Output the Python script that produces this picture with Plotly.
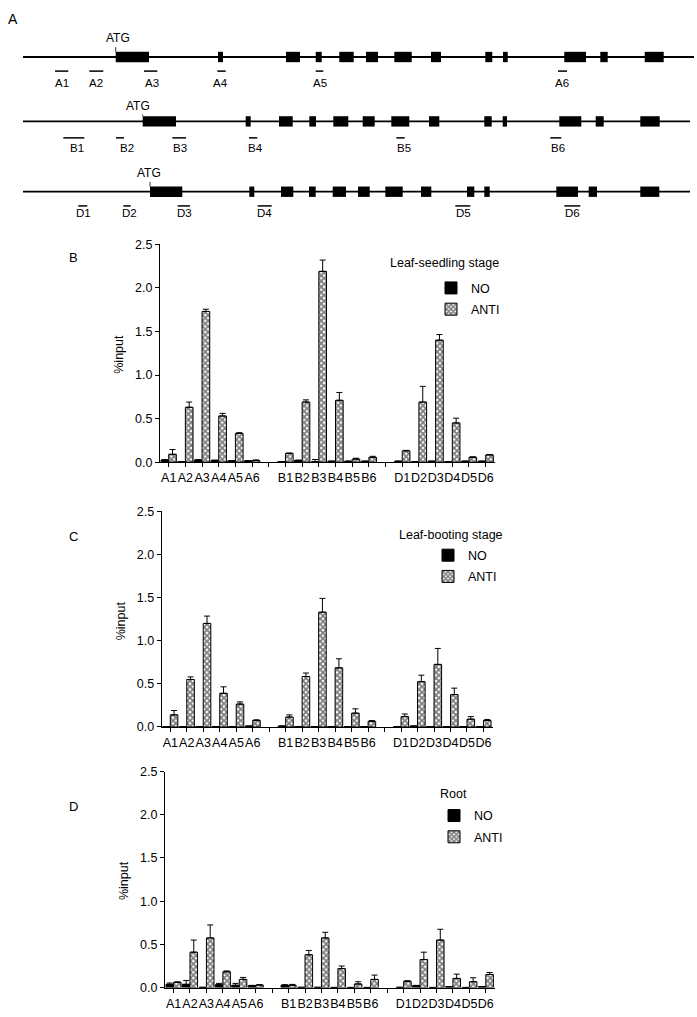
import plotly.graph_objects as go

W, H = 697, 1017
FONT = "Liberation Sans, Arial, sans-serif"

# ---------------- data ----------------
primer_labels = ["A1", "A2", "A3", "A4", "A5", "A6",
                 "B1", "B2", "B3", "B4", "B5", "B6",
                 "D1", "D2", "D3", "D4", "D5", "D6"]
axis_labels = ["A1", "A2", "A3", "A4", "A5", "A6", "",
               "B1", "B2", "B3", "B4", "B5", "B6", "",
               "D1", "D2", "D3", "D4", "D5", "D6"]

seedling_no = [0.025, 0.005, 0.025, 0.02, 0.015, 0.015,
               0.005, 0.02, 0.005, 0.01, 0.01, 0.01,
               0.01, 0.005, 0.01, 0.005, 0.01, 0.01]
seedling_no_err = [0.003, 0.0, 0.003, 0.003, 0.002, 0.002,
                   0.0, 0.003, 0.025, 0.002, 0.002, 0.002,
                   0.002, 0.0, 0.002, 0.0, 0.002, 0.002]
seedling_anti = [0.09, 0.63, 1.73, 0.53, 0.33, 0.02,
                 0.10, 0.69, 2.19, 0.71, 0.035, 0.055,
                 0.13, 0.69, 1.40, 0.45, 0.056, 0.083]
seedling_anti_err = [0.055, 0.06, 0.025, 0.03, 0.008, 0.005,
                     0.005, 0.025, 0.13, 0.09, 0.01, 0.012,
                     0.005, 0.18, 0.065, 0.055, 0.005, 0.005]

booting_no = [0.005, 0.005, 0.005, 0.005, 0.005, 0.01,
              0.01, 0.005, 0.005, 0.005, 0.005, 0.005,
              0.003, 0.01, 0.005, 0.005, 0.003, 0.003]
booting_no_err = [0.0] * 18
booting_anti = [0.14, 0.55, 1.20, 0.39, 0.265, 0.075,
                0.115, 0.585, 1.33, 0.685, 0.16, 0.065,
                0.12, 0.525, 0.725, 0.375, 0.09, 0.075]
booting_anti_err = [0.05, 0.03, 0.085, 0.075, 0.025, 0.008,
                    0.025, 0.04, 0.16, 0.105, 0.05, 0.008,
                    0.03, 0.075, 0.185, 0.075, 0.03, 0.012]

root_no = [0.038, 0.038, 0.003, 0.034, 0.027, 0.023,
           0.027, 0.003, 0.003, 0.002, 0.002, 0.002,
           0.003, 0.023, 0.002, 0.01, 0.002, 0.01]
root_no_err = [0.015, 0.045, 0.0, 0.015, 0.022, 0.003,
               0.007, 0.0, 0.0, 0.0, 0.0, 0.0,
               0.0, 0.003, 0.0, 0.002, 0.0, 0.002]
root_anti = [0.06, 0.41, 0.575, 0.183, 0.095, 0.03,
             0.027, 0.38, 0.575, 0.22, 0.042, 0.095,
             0.072, 0.325, 0.55, 0.106, 0.068, 0.152]
root_anti_err = [0.007, 0.14, 0.15, 0.01, 0.023, 0.003,
                 0.01, 0.05, 0.065, 0.03, 0.026, 0.05,
                 0.008, 0.085, 0.125, 0.05, 0.046, 0.023]

panel_titles = ["Leaf-seedling stage", "Leaf-booting stage", "Root"]
series_names = ["NO", "ANTI"]
y_ticks = [0.0, 0.5, 1.0, 1.5, 2.0, 2.5]

# gene schematics (panel A): exon start/end along each gene track
exons_A = [(115.7, 149), (218, 223), (286, 300), (315.7, 321.7), (339.3, 353.7),
           (366, 378), (394.3, 411.7), (431, 441), (485.3, 492.3), (503, 507.7),
           (564.3, 586), (600.3, 607.7), (644.7, 663.7)]
exons_B = [(142.7, 176), (245.7, 250.7), (279, 292.7), (309.3, 316), (333.3, 348.3),
           (362.7, 374.7), (391.3, 409.3), (429, 439.3), (484.3, 491.7), (502.7, 507),
           (559.3, 581.3), (595.7, 603.7), (640.3, 659.7)]
exons_D = [(150, 182.3), (249.3, 254.3), (281, 293.3), (309, 315.7), (332.7, 346),
           (358, 369.7), (385.3, 402.7), (421, 431.3), (467, 474.3), (484.3, 489.7),
           (556.3, 578), (588.7, 597), (640.3, 659.3)]
gene_span_A = (23, 694)
gene_span_B = (23, 690)
gene_span_D = (23, 690)
primers_A = [(55, 68.3, 61.7), (89.3, 103.3, 96), (144, 157.3, 151.7),
             (217.3, 225.7, 220.5), (315.7, 323.3, 320), (558, 567, 562)]
primers_B = [(63.3, 84.3, 77.3), (116, 124, 126.5), (172.3, 186, 180),
             (249, 257.3, 255), (396.3, 404.7, 404.3), (550.3, 561.3, 558)]
primers_D = [(78.3, 87.3, 83.3), (123.3, 130.7, 129.7), (177.7, 190, 184.3),
             (257.7, 271.7, 264.3), (455.3, 470.3, 463.7), (564.3, 580.3, 572)]
atg_sites = [117.5, 138.3, 149.3]
atg_marks = [115.7, 142.7, 150]

# ---------------- layout helpers ----------------
def px_x(v):
    return v / W

def px_y(v):
    return 1 - v / H

fig = go.Figure()

panels = [
    dict(no=seedling_no, noe=seedling_no_err, anti=seedling_anti, antie=seedling_anti_err,
         x0=160, x1=495, top=240.7, bot=461.5, leg=(431, 270), title=(388, 260), letter=(73, 254)),
    dict(no=booting_no, noe=booting_no_err, anti=booting_anti, antie=booting_anti_err,
         x0=161.7, x1=492.7, top=511.3, bot=730, leg=(428, 541), title=(396.7, 535), letter=(73, 537)),
    dict(no=root_no, noe=root_no_err, anti=root_anti, antie=root_anti_err,
         x0=165, x1=495, top=775.2, bot=994.3, leg=(434, 805), title=(438, 798.3), letter=(73, 811)),
]
letters = ["B", "C", "D"]

xpos = [axis_labels.index(c) for c in primer_labels]
annotations = []

for i, p in enumerate(panels):
    k = "" if i == 0 else str(i + 1)
    legname = "legend" if i == 0 else "legend" + str(i + 1)
    fig.add_trace(go.Bar(
        x=xpos, y=p["no"], name=series_names[0], xaxis="x" + k, yaxis="y" + k,
        marker=dict(color="black", line=dict(color="black", width=1)),
        error_y=dict(type="data", symmetric=False, array=p["noe"], arrayminus=[0] * 18,
                     color="black", thickness=1, width=3),
        legend=legname, legendgroup="no" + k, showlegend=True,
    ))
    fig.add_trace(go.Bar(
        x=xpos, y=p["anti"], name=series_names[1], xaxis="x" + k, yaxis="y" + k,
        marker=dict(color="white", line=dict(color="black", width=1),
                    pattern=dict(shape="x", size=4, solidity=0.7,
                                 fgcolor="black", bgcolor="white")),
        error_y=dict(type="data", symmetric=False, array=p["antie"], arrayminus=[0] * 18,
                     color="black", thickness=1, width=3),
        legend=legname, legendgroup="anti" + k, showlegend=True,
    ))
    xa = dict(domain=[px_x(p["x0"]), px_x(p["x1"])], range=[-0.52, 19.56],
              tickmode="array", tickvals=list(range(len(axis_labels))), ticktext=axis_labels,
              tickangle=0, ticks="outside", ticklen=4, tickcolor="black", tickwidth=1,
              showline=True, linecolor="black", linewidth=1, showgrid=False, zeroline=False,
              tickfont=dict(family=FONT, size=12.5, color="black"),
              anchor="y" + k, fixedrange=True)
    ya = dict(domain=[px_y(p["bot"]), px_y(p["top"])], range=[0, 2.5],
              tickmode="array", tickvals=y_ticks, tickformat=".1f",
              ticks="outside", ticklen=4, tickcolor="black", tickwidth=1,
              showline=True, linecolor="black", linewidth=1, showgrid=False, zeroline=False,
              tickfont=dict(family=FONT, size=12.5, color="black"),
              anchor="x" + k, fixedrange=True)
    fig.update_layout(**{"xaxis" + k: xa, "yaxis" + k: ya})
    fig.update_layout(**{legname: dict(
        x=px_x(p["leg"][0]), y=px_y(p["leg"][1]), xanchor="left", yanchor="top",
        bgcolor="rgba(0,0,0,0)", font=dict(family=FONT, size=12.5, color="black"),
        tracegroupgap=2, itemclick=False, itemdoubleclick=False)})
    annotations.append(dict(x=px_x(p["title"][0]), y=px_y(p["title"][1]), xref="paper", yref="paper",
                            text=panel_titles[i], showarrow=False, xanchor="left", yanchor="middle",
                            font=dict(family=FONT, size=12.5, color="black")))
    annotations.append(dict(x=px_x(p["x0"] - 41), y=px_y((p["top"] + p["bot"]) / 2 + 1.5),
                            xref="paper", yref="paper", text="%input", textangle=-90,
                            showarrow=False, xanchor="center", yanchor="middle",
                            font=dict(family=FONT, size=12.5, color="black")))
    annotations.append(dict(x=px_x(p["letter"][0]), y=px_y(p["letter"][1]), xref="paper", yref="paper",
                            text=letters[i], showarrow=False, xanchor="center", yanchor="middle",
                            font=dict(family=FONT, size=13, color="black")))

# ---------------- panel A: gene structures ----------------
rows_y = [50.7, 116, 187.3]
primer_bar_y = [65, 132.7, 201.7]
primer_label_y = [77.3, 142.7, 209.3]
atg_label_y = [31.7, 100, 168.3]
exon_sets = [exons_A, exons_B, exons_D]
spans = [gene_span_A, gene_span_B, gene_span_D]
primer_sets = [primers_A, primers_B, primers_D]
EXON_H = 10.5

lx, ly = [], []
for (s, e), ry in zip(spans, rows_y):
    lx += [s, e, None]
    ly += [ry, ry, None]
fig.add_trace(go.Scatter(x=lx, y=ly, mode="lines", line=dict(color="black", width=1.8),
                         xaxis="x4", yaxis="y4", showlegend=False, hoverinfo="skip"))

ex_base, ex_len, ex_y = [], [], []
for exs, ry in zip(exon_sets, rows_y):
    for s, e in exs:
        ex_base.append(s)
        ex_len.append(e - s)
        ex_y.append(ry)
fig.add_trace(go.Bar(x=ex_len, base=ex_base, y=ex_y, orientation="h", width=EXON_H,
                     marker=dict(color="black", line=dict(width=0)),
                     xaxis="x4", yaxis="y4", showlegend=False, hoverinfo="skip"))

px_, py_ = [], []
for prs, by in zip(primer_sets, primer_bar_y):
    for s, e, _ in prs:
        px_ += [s, e, None]
        py_ += [by, by, None]
fig.add_trace(go.Scatter(x=px_, y=py_, mode="lines", line=dict(color="black", width=1.5),
                         xaxis="x4", yaxis="y4", showlegend=False, hoverinfo="skip"))

# ATG markers
tx, ty = [], []
for mx, ry, ay in zip(atg_marks, rows_y, atg_label_y):
    tx += [mx, mx, None]
    ty += [ay + 9, ry - EXON_H / 2, None]
fig.add_trace(go.Scatter(x=tx, y=ty, mode="lines", line=dict(color="black", width=0.8),
                         xaxis="x4", yaxis="y4", showlegend=False, hoverinfo="skip"))

for ax_, ay in zip(atg_sites, atg_label_y):
    annotations.append(dict(x=ax_, y=ay, xref="x4", yref="y4", text="ATG", showarrow=False,
                            xanchor="center", yanchor="middle",
                            font=dict(family=FONT, size=12, color="black")))
for prs, lyv, lbls in zip(primer_sets, primer_label_y,
                          [primer_labels[0:6], primer_labels[6:12], primer_labels[12:18]]):
    for (s, e, c), t in zip(prs, lbls):
        annotations.append(dict(x=c, y=lyv, xref="x4", yref="y4", text=t, showarrow=False,
                                xanchor="center", yanchor="middle",
                                font=dict(family=FONT, size=11.5, color="black")))

annotations.append(dict(x=px_x(13), y=px_y(12), xref="paper", yref="paper", text="A",
                        showarrow=False, xanchor="center", yanchor="middle",
                        font=dict(family=FONT, size=14, color="black")))

fig.update_layout(
    xaxis4=dict(domain=[0, 1], range=[0, W], visible=False, fixedrange=True, anchor="y4"),
    yaxis4=dict(domain=[px_y(225), 1], range=[225, 0], visible=False, fixedrange=True, anchor="x4"),
)

fig.update_layout(
    width=W, height=H, margin=dict(l=0, r=0, t=0, b=0),
    paper_bgcolor="white", plot_bgcolor="white",
    barmode="group", bargap=0.08, bargroupgap=0,
    annotations=annotations,
    font=dict(family=FONT, color="black"),
    hovermode=False,
)

fig.write_html("out.html", config={"displayModeBar": False, "staticPlot": True},
               post_script="document.body.style.margin='0px';document.body.style.overflow='hidden';")
